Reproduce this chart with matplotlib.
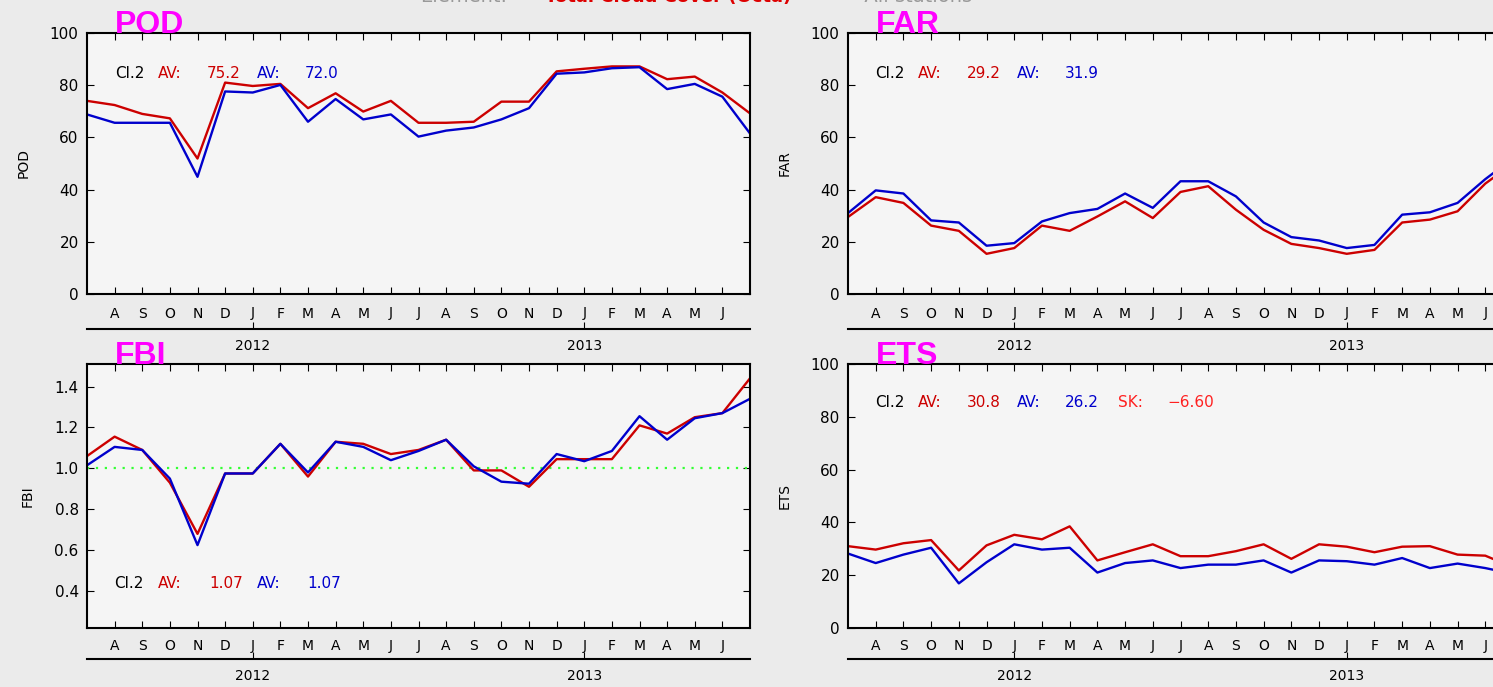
import matplotlib
matplotlib.use("Agg")
import matplotlib.pyplot as plt
import matplotlib.transforms as mtransforms

# months Jul 2011 .. Jul 2013 (index 0..24), labels on the inner ticks
month_labels = ["A", "S", "O", "N", "D", "J", "F", "M", "A", "M", "J",
                "J", "A", "S", "O", "N", "D", "J", "F", "M", "A", "M", "J"]
year_labels = ["2012", "2013"]
year_idx = [6, 18]

pod_red = [74.0, 72.4, 69.0, 67.3, 51.9, 81.0, 79.7, 80.5, 71.2, 76.9, 69.9, 74.0, 65.6,
           65.6, 66.0, 73.7, 73.7, 85.3, 86.3, 87.2, 87.2, 82.3, 83.3, 77.2, 69.2]
pod_blue = [68.8, 65.6, 65.6, 65.6, 44.9, 77.6, 77.2, 80.1, 66.0, 74.7, 66.9, 68.8, 60.3,
            62.6, 63.8, 66.9, 71.2, 84.4, 84.9, 86.5, 86.9, 78.5, 80.5, 75.6, 61.5]

far_red = [29.5, 37.1, 34.9, 26.2, 24.2, 15.4, 17.6, 26.2, 24.2, 29.7, 35.5, 29.1, 39.1,
           41.3, 32.3, 24.6, 19.2, 17.6, 15.4, 16.9, 27.4, 28.5, 31.7, 42.3, 50.0]
far_blue = [31.0, 39.7, 38.5, 28.2, 27.4, 18.5, 19.5, 27.8, 31.0, 32.6, 38.5, 33.0, 43.2,
            43.2, 37.4, 27.4, 21.8, 20.5, 17.6, 18.8, 30.4, 31.3, 34.9, 44.0, 52.0]

fbi_red = [1.06, 1.155, 1.09, 0.93, 0.68, 0.975, 0.975, 1.12, 0.96, 1.13, 1.12, 1.07, 1.09,
           1.14, 0.99, 0.99, 0.91, 1.045, 1.045, 1.045, 1.21, 1.17, 1.25, 1.27, 1.44]
fbi_blue = [1.015, 1.105, 1.09, 0.95, 0.625, 0.975, 0.975, 1.12, 0.98, 1.13, 1.105, 1.04, 1.085,
            1.14, 1.01, 0.935, 0.925, 1.07, 1.035, 1.085, 1.255, 1.14, 1.245, 1.27, 1.34]

ets_red = [31.0, 29.7, 32.1, 33.3, 21.8, 31.3, 35.3, 33.6, 38.5, 25.6, 28.7, 31.7, 27.2,
           27.2, 29.1, 31.7, 26.2, 31.7, 30.8, 28.7, 30.8, 31.0, 27.8, 27.4, 23.0]
ets_blue = [28.2, 24.6, 27.8, 30.4, 16.9, 24.9, 31.7, 29.7, 30.4, 21.0, 24.6, 25.6, 22.7,
            24.0, 24.0, 25.6, 21.0, 25.6, 25.3, 24.0, 26.5, 22.7, 24.4, 22.7, 20.5]

pod_text = [("Cl.2", 28), ("AV:", 71), ("75.2", 120), ("AV:", 170), ("72.0", 218)]
far_text = [("Cl.2", 27), ("AV:", 70), ("29.2", 119), ("AV:", 169), ("31.9", 217)]
fbi_text = [("Cl.2", 27), ("AV:", 71), ("1.07", 122), ("AV:", 170), ("1.07", 220)]
ets_text = [("Cl.2", 27), ("AV:", 70), ("30.8", 119), ("AV:", 169), ("26.2", 217),
            ("SK:", 270), ("\u22126.60", 319)]
text_colors = ["black", "#cc0000", "#cc0000", "#0000cc", "#0000cc", "#ff2020", "#ff2020"]

RED = "#cc0000"
BLUE = "#0000cc"
W, H = 1493, 687

fig = plt.figure(figsize=(W / 100, H / 100), dpi=100, facecolor="#ebebeb")


def make_axes(left, top, right, bottom):
    return fig.add_axes([left / W, 1 - bottom / H, (right - left) / W, (bottom - top) / H])


def style_panel(ax, title, ylabel, ylim, yticks, yticklabels, line_off, label_gap):
    ax.set_facecolor("#f5f5f5")
    ax.set_xlim(0, 24)
    ax.set_ylim(*ylim)
    ax.set_xticks(range(1, 24))
    ax.set_xticklabels(month_labels, fontsize=10)
    ax.set_yticks(yticks)
    ax.set_yticklabels(yticklabels, fontsize=11)
    ax.tick_params(axis="x", direction="in", length=5, top=True, pad=label_gap)
    ax.tick_params(axis="y", direction="in", length=5, right=True, pad=6)
    for s in ax.spines.values():
        s.set_linewidth(1.5)
    ax.set_ylabel(ylabel, fontsize=10, labelpad=14)
    ax.text(0.042, 1.0, title, transform=ax.transAxes, color="magenta", fontsize=23,
            fontweight="bold", family=["Liberation Sans Narrow", "Liberation Sans", "DejaVu Sans"],
            va="baseline", ha="left", zorder=5)
    # year axis below the month letters
    sec = ax.secondary_xaxis(line_off)
    sec.set_xticks(year_idx)
    sec.set_xticklabels(year_labels, fontsize=10)
    sec.tick_params(direction="in", length=5, pad=7)
    sec.spines["bottom"].set_linewidth(1.5)


def stats_text(ax, items, ypix):
    for (s, dx), c in zip(items, text_colors):
        tr = mtransforms.offset_copy(ax.transAxes, fig=fig, x=dx, y=-ypix, units="dots")
        ax.text(0, 1, s, transform=tr, color=c, fontsize=11, va="center", ha="left")


x = list(range(len(pod_red)))

ax1 = make_axes(87, 33, 750, 294)
ax1.plot(x, pod_red, color=RED, lw=1.7)
ax1.plot(x, pod_blue, color=BLUE, lw=1.7)
style_panel(ax1, "POD", "POD", (0, 100), range(0, 101, 20), [str(v) for v in range(0, 101, 20)],
            -0.134, 9)
stats_text(ax1, pod_text, 40)

ax2 = make_axes(848, 33, 1513, 294)
ax2.plot(x, far_red, color=RED, lw=1.7)
ax2.plot(x, far_blue, color=BLUE, lw=1.7)
style_panel(ax2, "FAR", "FAR", (0, 100), range(0, 101, 20), [str(v) for v in range(0, 101, 20)],
            -0.134, 9)
stats_text(ax2, far_text, 40)

ax3 = make_axes(87, 364, 750, 628)
ax3.axhline(1.0, color="#33ff33", lw=1.6, ls=(0, (1, 3)))
ax3.plot(x, fbi_red, color=RED, lw=1.7)
ax3.plot(x, fbi_blue, color=BLUE, lw=1.7)
fbi_ticks = [0.4, 0.6, 0.8, 1.0, 1.2, 1.4]
style_panel(ax3, "FBI", "FBI", (0.22, 1.51), fbi_ticks, ["%.1f" % v for v in fbi_ticks],
            -0.118, 8)
stats_text(ax3, fbi_text, 219)

ax4 = make_axes(848, 364, 1513, 628)
ax4.plot(x, ets_red, color=RED, lw=1.7)
ax4.plot(x, ets_blue, color=BLUE, lw=1.7)
style_panel(ax4, "ETS", "ETS", (0, 100), range(0, 101, 20), [str(v) for v in range(0, 101, 20)],
            -0.118, 8)
stats_text(ax4, ets_text, 39)

# page title, mostly cut off at the top edge
ty = 1 - 2 / H
fig.text(420 / W, ty, "Element:", color="#999999", fontsize=14, va="baseline", ha="left")
fig.text(545 / W, ty, "Total Cloud Cover (Octa)", color="#dd0000", fontsize=13,
         fontweight="bold", va="baseline", ha="left")
fig.text(851 / W, ty, "- All stations", color="#999999", fontsize=14,
         va="baseline", ha="left")

fig.savefig("out.png", dpi=100, facecolor=fig.get_facecolor())
